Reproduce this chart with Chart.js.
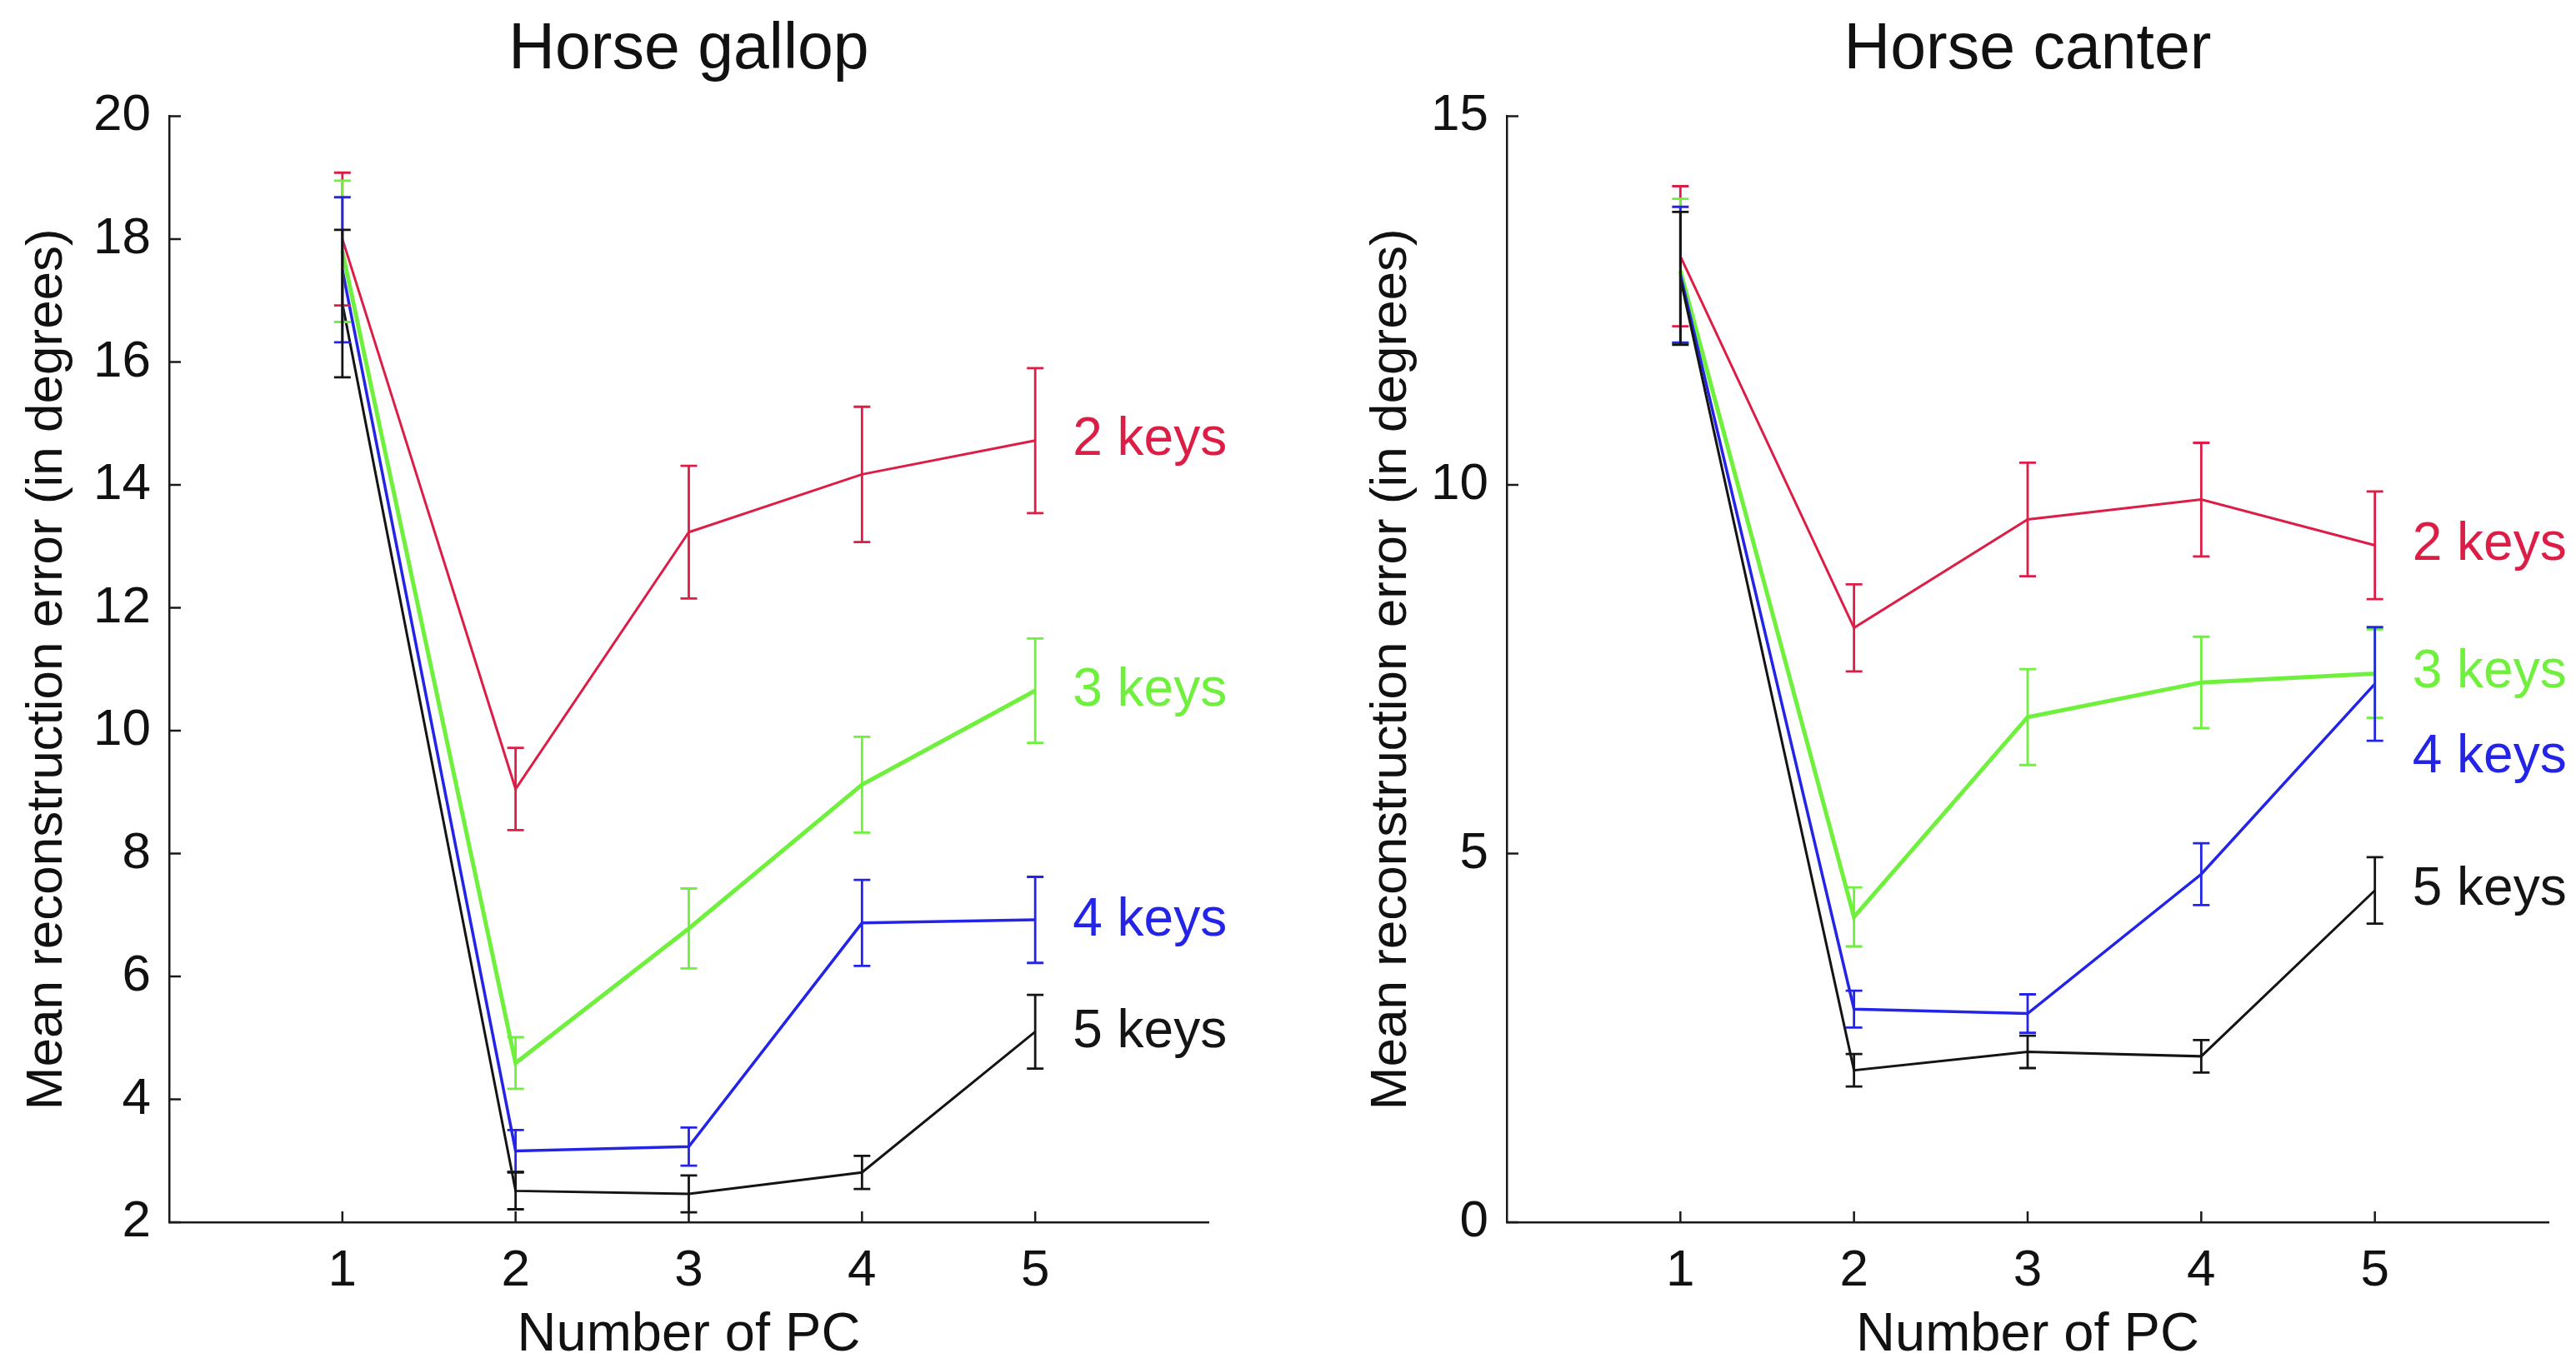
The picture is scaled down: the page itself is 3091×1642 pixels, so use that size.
<!DOCTYPE html>
<html>
<head>
<meta charset="utf-8">
<script src="https://cdn.jsdelivr.net/npm/chart.js@4/dist/chart.umd.min.js"></script>
<style>
  html, body { margin: 0; padding: 0; background: #fff; }
  body { width: 3091px; height: 1642px; position: relative; overflow: hidden; }
  canvas { position: absolute; top: 0; }
</style>
</head>
<body>
<canvas id="gallop" width="1545" height="1642" style="left:0px"></canvas>
<canvas id="canter" width="1486" height="1642" style="left:1605px"></canvas>
<script>
// x positions (number of PCs) and the curve names
const pcNumbers = [1, 2, 3, 4, 5];
const keyLabels = ['2 keys', '3 keys', '4 keys', '5 keys'];

// Horse gallop: means and error bar half-heights
const gallop2 = [18.0, 9.05, 13.23, 14.17, 14.72];
const gallop2Err = [1.08, 0.67, 1.08, 1.1, 1.18];
const gallop3 = [17.8, 4.59, 6.78, 9.12, 10.65];
const gallop3Err = [1.15, 0.42, 0.65, 0.78, 0.85];
const gallop4 = [17.5, 3.16, 3.23, 6.87, 6.92];
const gallop4Err = [1.18, 0.34, 0.31, 0.7, 0.7];
const gallop5 = [16.95, 2.51, 2.46, 2.81, 5.1];
const gallop5Err = [1.2, 0.3, 0.3, 0.27, 0.6];
const gallopLabelY = [14.72, 10.65, 6.9, 5.08];
const gallopYTicks = [2, 4, 6, 8, 10, 12, 14, 16, 18, 20];

// Horse canter
const canter2 = [13.1, 8.06, 9.53, 9.8, 9.18];
const canter2Err = [0.95, 0.59, 0.77, 0.77, 0.73];
const canter3 = [12.9, 4.14, 6.85, 7.32, 7.44];
const canter3Err = [0.98, 0.4, 0.65, 0.62, 0.6];
const canter4 = [12.85, 2.89, 2.83, 4.72, 7.3];
const canter4Err = [0.92, 0.25, 0.26, 0.42, 0.77];
const canter5 = [12.8, 2.06, 2.31, 2.25, 4.5];
const canter5Err = [0.9, 0.22, 0.22, 0.22, 0.45];
const canterLabelY = [9.18, 7.45, 6.3, 4.5];
const canterYTicks = [0, 5, 10, 15];

const colors = ['#dc1e46', '#6ef03c', '#2424e8', '#141414'];
const widths = [3, 5, 3.5, 3];
const FONT = "'Liberation Sans', Arial, sans-serif";

// error bars with small caps
const errorBars = {
  id: 'errorBars',
  afterDatasetsDraw(chart) {
    const ctx = chart.ctx, xs = chart.scales.x, ys = chart.scales.y;
    chart.data.datasets.forEach(ds => {
      ctx.save();
      ctx.strokeStyle = ds.borderColor;
      ctx.lineWidth = 2.8;
      ds.data.forEach((p, i) => {
        const px = xs.getPixelForValue(p.x);
        const top = ys.getPixelForValue(p.y + ds.errors[i]);
        const bot = ys.getPixelForValue(p.y - ds.errors[i]);
        ctx.beginPath();
        ctx.moveTo(px, top); ctx.lineTo(px, bot);
        ctx.moveTo(px - 10, top); ctx.lineTo(px + 10, top);
        ctx.moveTo(px - 10, bot); ctx.lineTo(px + 10, bot);
        ctx.stroke();
      });
      ctx.restore();
    });
  }
};

// matlab style ticks pointing into the plot, and the key labels
const extras = {
  id: 'extras',
  afterDraw(chart, args, opts) {
    const ctx = chart.ctx, xs = chart.scales.x, ys = chart.scales.y;
    const area = chart.chartArea;
    ctx.save();
    ctx.strokeStyle = '#1a1a1a';
    ctx.lineWidth = 2.5;
    ctx.beginPath();
    xs.ticks.forEach(t => {
      const px = xs.getPixelForValue(t.value);
      ctx.moveTo(px, area.bottom); ctx.lineTo(px, area.bottom - 13);
    });
    ys.ticks.forEach(t => {
      const py = ys.getPixelForValue(t.value);
      ctx.moveTo(area.left, py); ctx.lineTo(area.left + 14, py);
    });
    ctx.stroke();

    ctx.font = '64px ' + FONT;
    ctx.textAlign = 'left';
    ctx.textBaseline = 'middle';
    const x5 = xs.getPixelForValue(pcNumbers[pcNumbers.length - 1]);
    keyLabels.forEach((label, i) => {
      ctx.fillStyle = colors[i];
      ctx.fillText(label, x5 + 45, ys.getPixelForValue(opts.labelY[i]));
    });
    ctx.restore();
  }
};

function makeChart(id, title, series, errs, yMin, yMax, yTicks, labelY, yTitlePad) {
  const datasets = series.map((vals, i) => ({
    label: keyLabels[i],
    data: pcNumbers.map((x, j) => ({ x: x, y: vals[j] })),
    errors: errs[i],
    borderColor: colors[i],
    borderWidth: widths[i],
    pointRadius: 0,
    tension: 0,
    fill: false,
    order: 4 - i
  }));

  return new Chart(document.getElementById(id), {
    type: 'line',
    data: { datasets },
    options: {
      responsive: false,
      animation: false,
      devicePixelRatio: 1,
      layout: { padding: { left: 0, right: id === 'gallop' ? 95 : 33, top: 0, bottom: 0 } },
      plugins: {
        legend: { display: false },
        tooltip: { enabled: false },
        title: {
          display: true,
          text: title,
          fullSize: false,
          color: '#111',
          font: { family: FONT, size: 77, weight: 'normal' },
          padding: { top: 15, bottom: 32 }
        },
        extras: { labelY: labelY }
      },
      scales: {
        x: {
          type: 'linear',
          min: 0,
          max: 6,
          afterBuildTicks: s => { s.ticks = pcNumbers.map(v => ({ value: v })); },
          afterFit: s => { s.height = 175; },
          grid: { display: false, drawTicks: false },
          border: { display: true, color: '#1a1a1a', width: 2.5 },
          ticks: { color: '#111', padding: 22, font: { family: FONT, size: 62 } },
          title: {
            display: true,
            text: 'Number of PC',
            color: '#111',
            font: { family: FONT, size: 65 },
            padding: 0
          }
        },
        y: {
          type: 'linear',
          min: yMin,
          max: yMax,
          afterBuildTicks: s => { s.ticks = yTicks.map(v => ({ value: v })); },
          afterFit: s => { s.width = 203; },
          grid: { display: false, drawTicks: false },
          border: { display: true, color: '#1a1a1a', width: 2.5 },
          ticks: { color: '#111', padding: 22, font: { family: FONT, size: 62 } },
          title: {
            display: true,
            text: 'Mean reconstruction error (in degrees)',
            color: '#111',
            font: { family: FONT, size: 62 },
            padding: { top: yTitlePad, bottom: 0 }
          }
        }
      }
    },
    plugins: [errorBars, extras]
  });
}

makeChart('gallop', 'Horse gallop',
  [gallop2, gallop3, gallop4, gallop5],
  [gallop2Err, gallop3Err, gallop4Err, gallop5Err],
  2, 20, gallopYTicks, gallopLabelY, 20);

makeChart('canter', 'Horse canter',
  [canter2, canter3, canter4, canter5],
  [canter2Err, canter3Err, canter4Err, canter5Err],
  0, 15, canterYTicks, canterLabelY, 28);
</script>
</body>
</html>
